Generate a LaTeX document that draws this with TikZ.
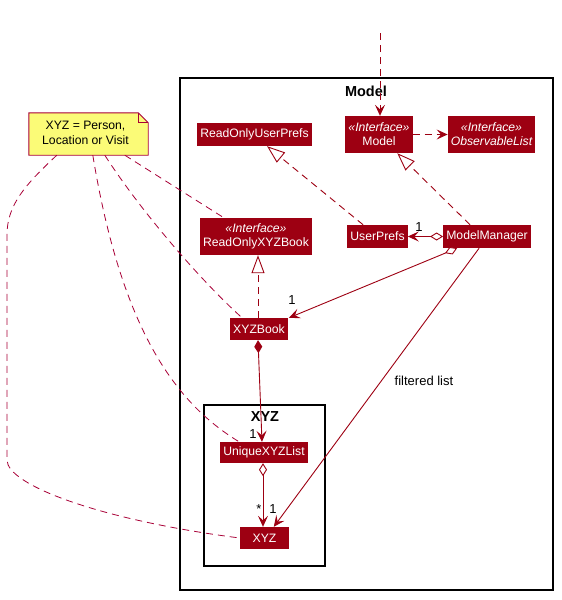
\documentclass[tikz,border=0pt]{standalone}
\usepackage{fontspec}
\setmainfont{Liberation Sans}
\usetikzlibrary{arrows.meta,calc}
\definecolor{mc}{HTML}{9D0012}
\definecolor{nb}{HTML}{A80036}
\definecolor{notefill}{HTML}{FBFB77}
\begin{document}
\begin{tikzpicture}[x=1pt,y=-1pt,
  cls/.style={fill=mc, text=white, font=\fontsize{12.2}{14}\selectfont, inner xsep=3pt, inner ysep=0pt, minimum height=23pt, align=center},
  cls2/.style={cls, minimum height=37pt},
  pkg/.style={draw=black, line width=1.4pt},
  pkgtitle/.style={font=\fontsize{14.5}{16}\selectfont\bfseries, inner sep=0pt},
  mult/.style={font=\fontsize{13}{15}\selectfont, inner sep=0pt},
  tipv/.tip={Stealth[length=11pt,width=10pt,inset=4.5pt]},
  edge/.style={draw=mc, line width=0.9pt},
  dep/.style={edge, dash pattern=on 7pt off 5pt, -tipv},
  real/.style={edge, dash pattern=on 7pt off 5pt, -{Triangle[length=18pt,width=13pt,fill=white]}},
  agg/.style={edge, {Diamond[length=13pt,width=8pt,fill=white]}-tipv},
  comp/.style={edge, {Diamond[length=13pt,width=8pt]}-tipv},
  assoc/.style={edge, -tipv},
  notelink/.style={draw=nb, line width=0.8pt, dash pattern=on 7pt off 5pt},
  notebox/.style={draw=nb, fill=notefill, line width=0.9pt}
]
\useasboundingbox (0,0) rectangle (562,600);

% packages
\draw[pkg] (180,78) rectangle (553,590);
\node[pkgtitle] (modeltitle) at (366,91) {Model};
\draw[pkg] (204,405) rectangle (325,566);
\node[pkgtitle] (xyztitle) at (265,417) {XYZ};

% classes
\node[cls2] (model) at (379,134.5) {{\itshape «Interface»}\\Model};
\node[cls2] (obs) at (491.5,134.5) {{\itshape «Interface»}\\{\itshape ObservableList}};
\node[cls] (rouprefs) at (254.5,134.5) {ReadOnlyUserPrefs};
\node[cls] (userprefs) at (377.5,236.5) {UserPrefs};
\node[cls] (mm) at (487,236.5) {ModelManager};
\node[cls2] (robook) at (256,236.5) {{\itshape «Interface»}\\ReadOnlyXYZBook};
\node[cls, minimum height=22pt] (xyzbook) at (259,329) {XYZBook};
\node[cls, minimum height=21pt] (ulist) at (264,452.5) {UniqueXYZList};
\node[cls, minimum height=22pt, minimum width=49pt] (xyz) at (264.5,538) {XYZ};

% note
\node[minimum width=119pt, minimum height=42pt, inner sep=0pt] (note) at (88.5,134) {};
\draw[notebox] (note.north west) -- ([xshift=-10pt]note.north east) -- ([yshift=-10pt]note.north east)
  -- (note.south east) -- (note.south west) -- cycle;
\draw[draw=nb, line width=0.9pt] ([xshift=-10pt]note.north east) -- ([xshift=-10pt,yshift=-10pt]note.north east) -- ([yshift=-10pt]note.north east);
\node[font=\fontsize{12.2}{15}\selectfont, inner sep=0pt] (notetext) at (note.center)
  {\begin{tabular}{@{}c@{\hspace{6pt}}}XYZ = Person,\\Location or Visit\end{tabular}};

% note links
\draw[notelink] ([xshift=28pt]note.south west) .. controls (25,185) and (7,205) .. (7,235)
  -- (7,460) .. controls (7,485) and (100,520) .. (xyz.west);
\draw[notelink] ([xshift=64pt]note.south west) .. controls (120,320) and (170,400) .. ([xshift=19pt]ulist.north west);
\draw[notelink] ([xshift=76pt]note.south west) .. controls (140,210) and (200,280) .. ([xshift=12pt]xyzbook.north west);
\draw[notelink] ([xshift=96pt]note.south west) -- ([xshift=24pt]robook.north west);

% edges
\coordinate (topin) at (380,33);
\draw[dep] (topin) -- (topin |- model.north);
\draw[dep] (model.east) -- (obs.west);
\draw[real] ([xshift=16pt]userprefs.north west) -- ([xshift=70pt]rouprefs.south west);
\draw[real] ([xshift=27pt]mm.north west) -- ([xshift=52pt]model.south west);
\draw[real] ([xshift=-1pt]xyzbook.north) -- ([xshift=-1pt]xyzbook.north |- robook.south);
\draw[agg] (mm.west) -- (userprefs.east);
\node[mult] (m1) at (419,227) {1};
\draw[agg] ([xshift=14pt]mm.south west) -- ([xshift=1pt]xyzbook.north east);
\node[mult] (m2) at (292,300) {1};
\draw[comp] ([xshift=-1pt]xyzbook.south) -- ([xshift=-2pt]ulist.north);
\node[mult] (m3) at (253,434) {1};
\draw[agg] ([xshift=-1pt]ulist.south) -- ([xshift=-1.5pt]xyz.north);
\node[mult] (m4) at (259,509) {*};
\draw[assoc] ([xshift=36pt]mm.south west) -- ([xshift=34pt]xyz.north west);
\node[mult] (m5) at (273,509) {1};
\node[mult] (fl) at (424,381) {filtered list};
\end{tikzpicture}
\end{document}
